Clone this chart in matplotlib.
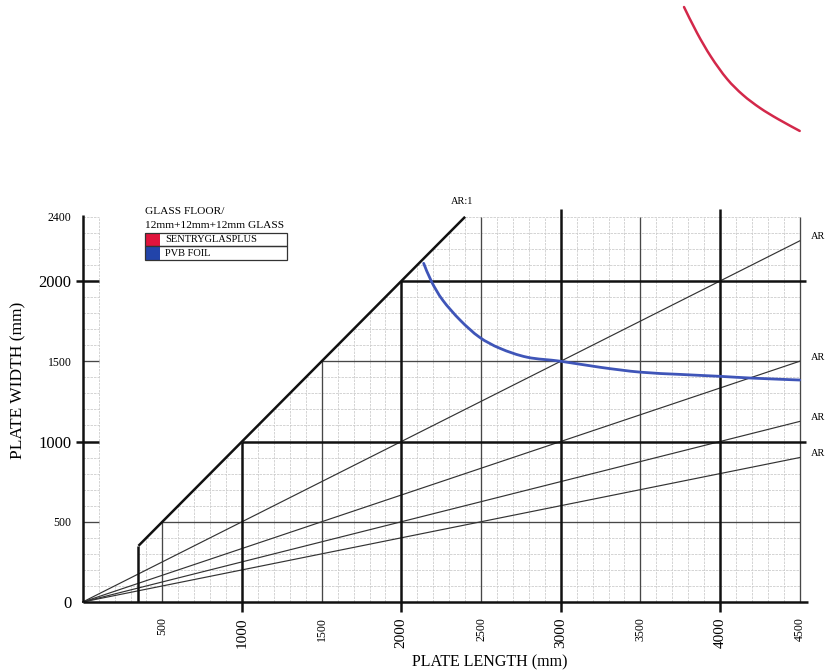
import matplotlib
matplotlib.use("Agg")
import matplotlib.pyplot as plt
from matplotlib.path import Path
from matplotlib.patches import PathPatch
import numpy as np

# ---- data -------------------------------------------------------------
x_ticks = [500, 1000, 1500, 2000, 2500, 3000, 3500, 4000, 4500]
x_tick_labels = ["500", "1000", "1500", "2000", "2500", "3000", "3500", "4000", "4500"]
y_ticks = [0, 500, 1000, 1500, 2000, 2400]
y_tick_labels = ["0", "500", "1000", "1500", "2000", "2400"]
major_vals = [1000, 2000, 3000, 4000]          # heavy grid values
mid_vals = [500, 1500, 2500, 3500, 4500]       # medium grid values

ar_ratios = [2, 3, 4, 5]                       # aspect-ratio rays from the origin
ar_labels = ["AR", "AR", "AR", "AR"]
ar1_start = 350                                # AR:1 boundary starts here
x_max, y_max = 4500, 2400

# PVB foil limit curve
pvb_length = [2140, 2190, 2260, 2370, 2490, 2620, 2790, 3000, 3250, 3500,
              3750, 4000, 4200, 4500]
pvb_width = [2110, 1995, 1880, 1755, 1650, 1580, 1525, 1500, 1462, 1432,
             1418, 1406, 1395, 1383]

# SentryGlas Plus limit curve
sgp_length = [3774, 3856, 3944, 4044, 4144, 4251, 4364, 4500]
sgp_width = [3707, 3545, 3396, 3259, 3159, 3078, 3009, 2935]

# ---- figure -----------------------------------------------------------
W, H = 825, 671
fig = plt.figure(figsize=(W / 100, H / 100), dpi=100)
plt.rcParams["font.family"] = ["Liberation Serif", "DejaVu Serif"]

x0_px, x1_px = 82.7, 799.7
y0_px, y1_px = 602.0, 216.8
ax = fig.add_axes([x0_px / W, (H - y0_px) / H,
                   (x1_px - x0_px) / W, (y0_px - y1_px) / H])
ax.set_xlim(0, x_max)
ax.set_ylim(0, y_max)
for s in ax.spines.values():
    s.set_visible(False)

def px(x, y):
    return x / W, 1 - y / H

THICK = dict(color="#111111", lw=1.8, solid_capstyle="butt", clip_on=False, zorder=4)
MID = dict(color="#474747", lw=0.95, solid_capstyle="butt", clip_on=False, zorder=3)
THIN = dict(color="#333333", lw=0.85, clip_on=False, zorder=3)
GRID = dict(color="#cdcdcd", lw=0.6, ls=(0, (3, 1.2)), clip_on=False, zorder=1)

# ---- light grid every 100 mm -------------------------------------------
step = 100
for v in range(step, x_max + 1, step):
    if v in major_vals or v in mid_vals:
        continue
    if v >= ar1_start:
        ax.plot([v, v], [0, min(v, y_max)], **GRID)
    elif v == step:
        ax.plot([v, v], [0, y_max], **GRID)
    else:
        ax.plot([v, v], [0, step], **GRID)
for v in range(step, y_max + 1, step):
    if v in major_vals or v in mid_vals:
        continue
    if v == step:
        ax.plot([0, x_max], [v, v], **GRID)
        continue
    ax.plot([0, step], [v, v], **GRID)
    ax.plot([max(v, ar1_start), x_max], [v, v], **GRID)

# ---- medium grid lines -------------------------------------------------
for v in mid_vals:
    ax.plot([v, v], [0, min(v, y_max)], **MID)
    if v <= y_max:
        ax.plot([v, x_max], [v, v], **MID)
        ax.plot([0, step], [v, v], **MID)

# ---- heavy grid lines --------------------------------------------------
for v in major_vals:
    top = v if v <= y_max else 2450
    ax.plot([v, v], [-60, top], **THICK)
    if v <= y_max:
        ax.plot([v, 4540], [v, v], **THICK)
        ax.plot([-45, step], [v, v], **THICK)

# axes
ax.plot([0, 0], [0, 2410], **THICK)
ax.plot([0, 4550], [0, 0], **THICK)

# AR:1 boundary
ax.plot([ar1_start, ar1_start], [0, ar1_start], **THICK)
ax.plot([ar1_start, y_max], [ar1_start, y_max], **THICK)
ax.text(2380, 2465, "AR:1", ha="center", va="bottom", fontsize=7.5)

# AR rays
for r, lab in zip(ar_ratios, ar_labels):
    ax.plot([0, x_max], [0, x_max / r], **THIN)
    ax.text(4570, x_max / r + 25, lab, ha="left", va="center", fontsize=7.5,
            clip_on=False)

# ---- limit curves (smooth Bezier through the read points) --------------
def smooth_path(xs, ys):
    pts = ax.transData.transform(np.column_stack([xs, ys]))
    verts = [pts[0]]
    codes = [Path.MOVETO]
    n = len(pts)
    for i in range(n - 1):
        p0 = pts[i - 1] if i > 0 else pts[i]
        p1, p2 = pts[i], pts[i + 1]
        p3 = pts[i + 2] if i + 2 < n else pts[i + 1]
        c1 = p1 + (p2 - p0) / 6.0
        c2 = p2 - (p3 - p1) / 6.0
        verts += [c1, c2, p2]
        codes += [Path.CURVE4] * 3
    return Path(ax.transData.inverted().transform(np.array(verts)), codes)

for xs, ys, col, lw in [(pvb_length, pvb_width, "#3f55b8", 2.0),
                        (sgp_length, sgp_width, "#d3284a", 1.8)]:
    ax.add_patch(PathPatch(smooth_path(xs, ys), facecolor="none", edgecolor=col,
                           lw=lw, capstyle="round", joinstyle="round",
                           zorder=6, clip_on=False))

# ---- ticks -------------------------------------------------------------
ax.set_xticks(x_ticks, x_tick_labels, rotation=90)
ax.set_yticks(y_ticks, y_tick_labels)
ax.tick_params(axis="both", length=0)
ax.tick_params(axis="x", pad=11)
ax.tick_params(axis="y", pad=8)
for t in ax.get_xticklabels():
    t.set_fontsize(11 if int(t.get_text()) in major_vals else 8.5)
    t.set_va("top")
for t in ax.get_yticklabels():
    v = int(t.get_text())
    t.set_fontsize(12 if v in (0, 1000, 2000) else 8.5)

fig.text(*px(490, 662), "PLATE LENGTH (mm)", ha="center", va="center",
         fontsize=11.5)
fig.text(*px(18, 380), "PLATE WIDTH (mm)", rotation=90, ha="center",
         va="center", fontsize=12.5)

# ---- legend block ------------------------------------------------------
fig.text(*px(145, 211), "GLASS FLOOR/", fontsize=8.2, va="center", ha="left")
fig.text(*px(145, 225), "12mm+12mm+12mm GLASS", fontsize=8.2, va="center", ha="left")
lx0, lx1, lxs = 145, 287, 160
rows = [(232.5, 246, "#e0143c", "SENTRYGLASPLUS"), (246, 260, "#2244aa", "PVB FOIL")]
for top, bot, col, txt in rows:
    x, y = px(lx0, bot)
    fig.add_artist(plt.Rectangle((x, y), (lxs - lx0) / W, (bot - top) / H,
                                 transform=fig.transFigure, facecolor=col,
                                 edgecolor="none"))
    fig.add_artist(plt.Rectangle((x, y), (lx1 - lx0) / W, (bot - top) / H,
                                 transform=fig.transFigure, facecolor="none",
                                 edgecolor="#333333", lw=0.9))
    fig.text(*px(165, (top + bot) / 2 + 0.5), txt, fontsize=7.5, va="center", ha="left")

fig.savefig("out.png", dpi=100, facecolor="white")
